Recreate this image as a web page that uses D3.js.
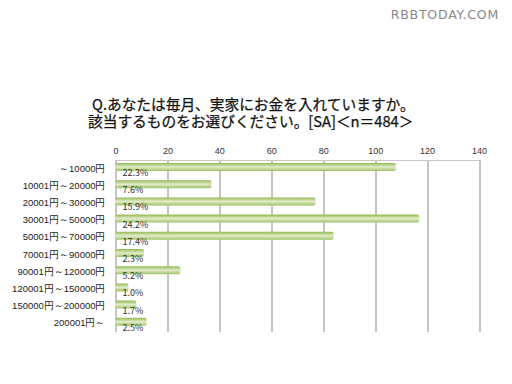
<!DOCTYPE html>
<html>
<head>
<meta charset="utf-8">
<script src="https://cdn.jsdelivr.net/npm/d3@7"></script>
<style>
  body { margin: 0; background: #fff; }
  svg { display: block; font-family: "Noto Sans CJK JP", "Noto Sans", sans-serif; }
</style>
</head>
<body>
<div id="viz-container"></div>
<script>
// data (counts, n = 484)
const categories = [
    "～10000円", "10001円～20000円", "20001円～30000円", "30001円～50000円",
    "50001円～70000円", "70001円～90000円", "90001円～120000円",
    "120001円～150000円", "150000円～200000円", "200001円～"
];
const counts = [108, 37, 77, 117, 84, 11, 25, 5, 8, 12];
const pctLabels = ["22.3%", "7.6%", "15.9%", "24.2%", "17.4%", "2.3%", "5.2%", "1.0%", "1.7%", "2.5%"];
const xTicks = [0, 20, 40, 60, 80, 100, 120, 140];
const titleLines = [
    "Q.あなたは毎月、実家にお金を入れていますか。",
    "該当するものをお選びください。[SA]＜n＝484＞"
];

const data = categories.map((c, i) => ({ cat: c, n: counts[i], pct: pctLabels[i] }));

const W = 512, H = 384;
const svg = d3.select("#viz-container")
    .append("svg")
    .attr("width", W)
    .attr("height", H);

const margin = { top: 160, left: 115.5, right: 33, bottom: 52 };
const width = W - margin.left - margin.right,
    height = H - margin.top - margin.bottom;

// gradient for the bars
const defs = svg.append("defs");
const grad = defs.append("linearGradient")
    .attr("id", "barGrad")
    .attr("x1", 0).attr("y1", 0).attr("x2", 0).attr("y2", 1);
grad.append("stop").attr("offset", "0%").attr("stop-color", "#93b850");
grad.append("stop").attr("offset", "50%").attr("stop-color", "#e2edcb");
grad.append("stop").attr("offset", "100%").attr("stop-color", "#9dc162");
const blur = defs.append("filter").attr("id", "soft")
    .attr("x", "-5%").attr("y", "-50%").attr("width", "110%").attr("height", "200%");
blur.append("feGaussianBlur").attr("stdDeviation", 0.5);

// watermark
svg.append("text")
    .attr("x", 499)
    .attr("y", 18.5)
    .attr("text-anchor", "end")
    .attr("font-family", "DejaVu Sans, sans-serif")
    .attr("font-size", "12.5px")
    .attr("fill", "#888")
    .attr("letter-spacing", "0.8")
    .text("RBBTODAY.COM");

// title (two lines in one text block)
const title = svg.append("text")
    .attr("class", "title")
    .attr("font-size", "14.7px")
    .attr("fill", "#111")
    .attr("stroke", "#111")
    .attr("stroke-width", 0.25);
title.selectAll("tspan")
    .data(titleLines)
    .join("tspan")
    .attr("x", (d, i) => i === 0 ? 92 : 88)
    .attr("y", (d, i) => 110 + i * 17)
    .text(d => d);

const chart = svg.append("g")
    .attr("transform", `translate(${margin.left},${margin.top})`);

// scales
const x = d3.scaleLinear()
    .domain([0, 140])
    .range([0, width]);

const y = d3.scaleBand()
    .domain(categories)
    .range([0, height]);

// grid lines
chart.selectAll(".grid")
    .data(xTicks)
    .join("line")
    .attr("class", "grid")
    .attr("x1", d => Math.round(x(d)) + 0.5)
    .attr("x2", d => Math.round(x(d)) + 0.5)
    .attr("y1", 0)
    .attr("y2", height)
    .attr("stroke", "#8a8a8a")
    .attr("stroke-width", 1);

// top axis
const xAxis = chart.append("g")
    .call(d3.axisTop(x).tickValues(xTicks).tickSize(0).tickPadding(6));
xAxis.select(".domain").attr("stroke", "#c8c8c8");
xAxis.selectAll("text")
    .attr("font-size", "9px")
    .attr("fill", "#333");

// left labels
const yAxis = chart.append("g")
    .call(d3.axisLeft(y).tickSize(0).tickPadding(10));
yAxis.select(".domain").remove();
yAxis.selectAll("text")
    .attr("font-size", "9.5px")
    .attr("fill", "#222");

// bars
chart.selectAll(".bar")
    .data(data)
    .join("rect")
    .attr("class", "bar")
    .attr("x", 0)
    .attr("y", d => y(d.cat) + 3)
    .attr("width", d => x(d.n))
    .attr("height", 8)
    .attr("rx", 2)
    .attr("fill", "url(#barGrad)")
    .attr("filter", "url(#soft)");

// percent labels
chart.selectAll(".pct")
    .data(data)
    .join("text")
    .attr("class", "pct")
    .attr("x", 7)
    .attr("y", d => y(d.cat) + 16)
    .attr("font-size", "9px")
    .attr("fill", "#333")
    .text(d => d.pct);
</script>
</body>
</html>
